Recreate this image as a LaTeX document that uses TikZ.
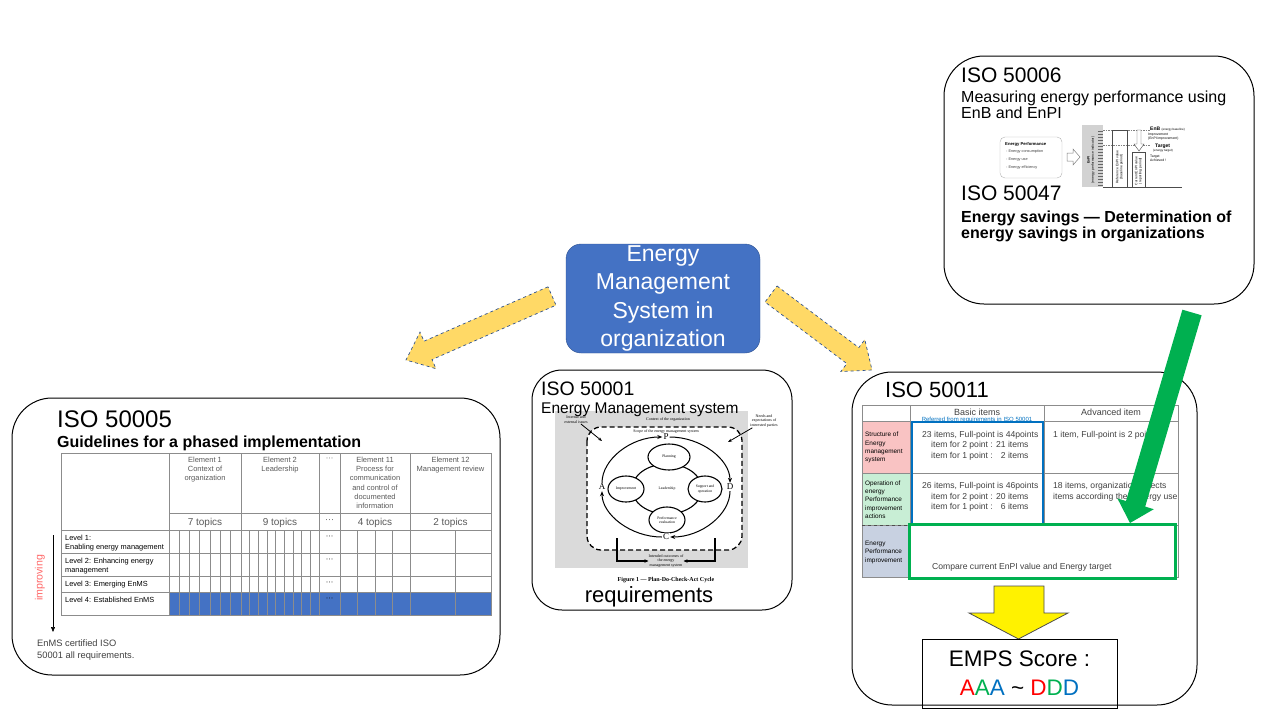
\documentclass[tikz,border=0pt]{standalone}
\usepackage{fontspec}
\setmainfont{Liberation Sans}
\newfontfamily\figfont{Liberation Serif}
\usetikzlibrary{arrows.meta,shapes.geometric}

\definecolor{enmsblue}{HTML}{4472C4}
\definecolor{enmsedge}{HTML}{2F528F}
\definecolor{arrowgold}{HTML}{FFD966}
\definecolor{scoregreen}{HTML}{00B050}
\definecolor{basicblue}{HTML}{0070C0}
\definecolor{rowpink}{HTML}{F9C3C3}
\definecolor{rowgreen}{HTML}{C8EED5}
\definecolor{rowslate}{HTML}{C8D1E1}
\definecolor{cellgray}{HTML}{595959}
\definecolor{celltext}{HTML}{404040}
\definecolor{tabgray}{HTML}{8C8C8C}
\definecolor{figgray}{HTML}{DADADA}

\newcommand{\pxfont}[2]{\fontsize{#1}{#2}\selectfont}

\begin{document}
\begin{tikzpicture}[x=1pt,y=-1pt,
  isobox/.style={draw, line width=1, rounded corners=40},
  lbl/.style={anchor=base west, inner sep=0},
  cbl/.style={anchor=base, inner sep=0},
  tabline/.style={draw=tabgray, line width=0.8},
  goldarrow/.style={fill=arrowgold, draw=enmsedge, dashed, line width=0.7},
  hdr/.style={anchor=north, inner sep=0, align=center, text=cellgray, font=\pxfont{7.5}{9.3}},
  lvl/.style={lbl, font=\pxfont{7.4}{8.5}},
  celltxt/.style={lbl, text=celltext, font=\pxfont{8.6}{10.7}},
  rowhd/.style={anchor=north west, inner sep=0, align=left, font=\pxfont{6.4}{8.3}},
  figtxt/.style={inner sep=0, align=center, font=\figfont\pxfont{4}{4.8}},
  figsans/.style={inner sep=0, align=left, font=\pxfont{3.4}{4.2}},
  ring/.style={draw, ellipse, line width=1.1, inner sep=0, align=center, font=\figfont\pxfont{3.8}{4.5}},
  letter/.style={fill=white, inner sep=1, font=\figfont\pxfont{9}{9}},
  pdcaarc/.style={line width=1, -{Stealth[length=5,width=4]}},
  enms/.style={draw=enmsedge, fill=enmsblue, rounded corners=15, text=white, minimum width=194,
    minimum height=109, inner sep=0, align=center, font=\pxfont{23}{28.5}}
]
\useasboundingbox (0,0) rectangle (1280,720);

% centre and the two yellow arrows
\node[enms] (enms) at (663,298.5) {Energy\\Management\\System in\\organization};
\draw[goldarrow] (548.0,286.8) -- (424.0,341.2) -- (420.0,332.1) -- (406,360) -- (436.0,368.7)
  -- (432.0,359.6) -- (556.0,305.2) -- cycle;
\draw[goldarrow] (777.0,286.0) -- (858.8,347.6) -- (864.8,339.6) -- (872,370) -- (840.8,371.6)
  -- (846.8,363.6) -- (765.0,302.0) -- cycle;

% ISO 50005
\draw[isobox] (12,398) rectangle (500,675);
\node[lbl, font=\pxfont{24}{28}] (t5) at (57,427) {ISO 50005};
\node[lbl, font=\bfseries\pxfont{16}{19}] (g5) at (57,447) {Guidelines for a phased implementation};
\fill[enmsblue] (169,592) rectangle (491,615);
\draw[tabline] (61,453) rectangle (491,615);
\foreach \y in {530,553,576,592} \draw[tabline] (61,\y) -- (491,\y);
\draw[tabline] (169,513) -- (491,513);
\foreach \x in {169,241,319,340,410} \draw[tabline] (\x,453) -- (\x,615);
\foreach \i in {1,...,6} \draw[tabline] ({169+\i*72/7},530) -- ({169+\i*72/7},615);
\foreach \i in {1,...,8} \draw[tabline] ({241+\i*78/9},530) -- ({241+\i*78/9},615);
\foreach \i in {1,2,3} \draw[tabline] ({340+\i*17.5},530) -- ({340+\i*17.5},615);
\draw[tabline] (455,530) -- (455,615);
\node[hdr] (e1) at (205,456.5) {Element 1\\Context of\\organization};
\node[hdr] (e2) at (280,456.5) {Element 2\\Leadership};
\node[inner sep=0, text=cellgray, font=\pxfont{7.5}{9}] (edots) at (329.5,459) {···};
\node[hdr] (e11) at (375,456.5) {Element 11\\Process for\\communication\\and control of\\documented\\information};
\node[hdr] (e12) at (450.5,456.5) {Element 12\\Management review};
\foreach \x/\t [count=\k] in {205/7 topics,280/9 topics,375/4 topics,450.5/2 topics}
  \node[cbl, text=cellgray, font=\pxfont{10}{12}] (tp\k) at (\x,525) {\t};
\node[inner sep=0, text=cellgray, font=\pxfont{9}{9}] (tpdots) at (329.5,521.5) {···};
\foreach \y [count=\k] in {537,560,583,599}
  \node[inner sep=0, font=\pxfont{7.5}{9}] (ld\k) at (329.5,\y) {···};
\node[lvl] (lv1a) at (65,540.5) {Level 1:};
\node[lvl] (lv1b) at (65,549) {Enabling energy management};
\node[lvl] (lv2a) at (65,563) {Level 2: Enhancing energy};
\node[lvl] (lv2b) at (65,572) {management};
\node[lvl] (lv3) at (65,586) {Level 3: Emerging EnMS};
\node[lvl] (lv4) at (65,602) {Level 4: Established EnMS};
\node[rotate=90, inner sep=0, text=red!60, font=\pxfont{10.6}{12}] (impr) at (40,578) {improving};
\coordinate (imptop) at (53,535);
\coordinate (impend) at (53,632);
\draw[line width=0.6, -{Triangle[length=5,width=4]}] (imptop) -- (impend);
\node[lbl, text=celltext, font=\pxfont{9.3}{12}] (cert1) at (37,646) {EnMS certified ISO};
\node[lbl, text=celltext, font=\pxfont{9.3}{12}] (cert2) at (37,658) {50001 all requirements.};

% ISO 50001 with its PDCA figure
\draw[isobox, rounded corners=30] (532,370) rectangle (792,610);
\fill[figgray] (555,411) rectangle (748,568);
\draw[dash pattern=on 5pt off 3pt, line width=1.3, fill=white, rounded corners=14] (587,427) rectangle (742,550);
\node[figtxt] (ctx) at (668,420) {Context of the organization};
\node[figtxt] (intiss) at (576,420) {Internal and\\external issues};
\node[figtxt] (needs) at (764,421) {Needs and\\expectations of\\interested parties};
\node[figtxt] (scope) at (666,431.5) {Scope of the energy management system};
\coordinate (intin) at (602,441);
\coordinate (needin) at (728,442);
\draw[line width=0.8, -{Stealth[length=4,width=3]}] (intiss) -- (intin);
\draw[line width=0.8, -{Stealth[length=4,width=3]}] (needs) -- (needin);
\node[ring, minimum width=70, minimum height=50] (lead) at (667,489) {Leadership};
\node[ring, fill=white, minimum width=42, minimum height=26] (plan) at (669,457) {Planning};
\node[ring, fill=white, minimum width=34, minimum height=26] (supp) at (705,489) {Support and\\operation};
\node[ring, fill=white, minimum width=36, minimum height=26] (perf) at (667,520) {Performance\\evaluation};
\node[ring, fill=white, minimum width=36, minimum height=26] (imp) at (626,489) {Improvement};
\node[letter] (P) at (666,437) {P};
\node[letter] (D) at (730,487) {D};
\node[letter] (C) at (666,537) {C};
\node[letter] (A) at (602,487) {A};
\draw[pdcaarc] (A) .. controls (602,459.4) and (630.7,437) .. (P);
\draw[pdcaarc] (P) .. controls (701.3,437) and (730,459.4) .. (D);
\draw[pdcaarc] (D) .. controls (730,514.6) and (701.3,537) .. (C);
\draw[pdcaarc] (C) .. controls (630.7,537) and (602,514.6) .. (A);
\node[figtxt] (outc) at (666,561) {Intended outcomes of\\the energy\\management system};
\coordinate (outl) at (617,538);
\coordinate (outr) at (715,538);
\draw[line width=1.4, -{Stealth[length=4,width=3.5]}] (outl) |- (outc.west);
\draw[line width=1.4, -{Stealth[length=4,width=3.5]}] (outr) |- (outc.east);
\node[figtxt, font=\figfont\bfseries\pxfont{6}{7}] (figcap) at (666,580) {Figure 1 — Plan-Do-Check-Act Cycle};
\node[lbl, font=\pxfont{19.5}{23}] (t1) at (541,395) {ISO 50001};
\node[lbl, font=\pxfont{15.5}{18}] (s1) at (541,413) {Energy Management system};
\node[cbl, font=\pxfont{22}{26}] (req) at (649,602) {requirements};

% ISO 50006 / ISO 50047
\draw[isobox] (944,56) rectangle (1254,304);
\node[lbl, font=\pxfont{21}{25}] (t6) at (961,82) {ISO 50006};
\node[lbl, font=\pxfont{16}{19}] (s6a) at (961,102) {Measuring energy performance using};
\node[lbl, font=\pxfont{16}{19}] (s6b) at (961,118) {EnB and EnPI};
\node[draw=gray!60, rounded corners=5, minimum width=62, minimum height=41] (perfbox) at (1031,157.5) {};
\node[lbl, font=\bfseries\pxfont{4.2}{5}] (pb0) at (1005,145) {Energy Performance};
\node[lbl, text=celltext, font=\pxfont{3.8}{5}] (pb1) at (1006,152.5) {- Energy consumption};
\node[lbl, text=celltext, font=\pxfont{3.8}{5}] (pb2) at (1006,160.5) {- Energy use};
\node[lbl, text=celltext, font=\pxfont{3.8}{5}] (pb3) at (1006,168.5) {- Energy efficiency};
\draw[gray, line width=0.5] (1067,153) -- (1073,153) -- (1073,149) -- (1080,157) -- (1073,165) -- (1073,161) -- (1067,161) -- cycle;
\fill[gray!35] (1082,125) rectangle (1103,187);
\foreach \y in {131,134,...,185} \draw[gray!80!black, line width=0.4] (1098,\y) -- (1103,\y);
\node[figsans, rotate=90, align=center] (enpiax) at (1091,160) {\textbf{EnPI}\\(energy performance indicator)};
\draw[dash pattern=on 1.5pt off 1pt, gray, line width=0.4] (1103,130) -- (1150,130);
\draw[dash pattern=on 1.5pt off 1pt, gray, line width=0.4] (1103,145) -- (1150,145);
\draw[gray!60!black, line width=0.5] (1112,130) rectangle (1127,187);
\draw[gray!60!black, line width=0.5] (1132,152) rectangle (1145,187);
\draw[gray!60!black, line width=0.5] (1103,187) -- (1182,187);
\node[figsans, rotate=90, align=center] (refv) at (1119.5,167) {Reference EnPI value\\(baseline period)};
\node[figsans, rotate=90, align=center] (curv) at (1138.5,171) {Current EnPI value\\(reporting period)};
\draw[gray!60!black, fill=white, line width=0.4] (1137,130) -- (1141,130) -- (1141,144) -- (1144,144) -- (1139,151)
  -- (1134,144) -- (1137,144) -- cycle;
\node[lbl, font=\pxfont{5}{6}] (enb) at (1150,130.5) {\textbf{EnB} {\pxfont{3}{4}(energy baseline)}};
\node[figsans, anchor=north west] (imv) at (1148,133) {Improvement\\(EnPI improvement)};
\node[lbl, font=\pxfont{5}{6}] (tgt) at (1155,147) {\textbf{Target}};
\node[lbl, font=\pxfont{3}{4}] (tgtb) at (1153,151.5) {(energy target)};
\node[figsans, anchor=north west] (ach) at (1150,155) {Target\\Achieved !};
\node[lbl, font=\pxfont{21}{25}] (t47) at (961,200) {ISO 50047};
\node[lbl, font=\bfseries\pxfont{16}{19}] (s47a) at (961,222) {Energy savings — Determination of};
\node[lbl, font=\bfseries\pxfont{16}{19}] (s47b) at (961,238) {energy savings in organizations};

% ISO 50011
\draw[isobox] (852,372) rectangle (1197,705);
\node[lbl, font=\pxfont{22}{26}] (t11) at (885,397.5) {ISO 50011};
\fill[rowpink] (862,421) rectangle (910,473);
\fill[rowgreen] (862,473) rectangle (910,525);
\fill[rowslate] (862,525) rectangle (910,577);
\draw[tabline] (862,405) rectangle (1178,577);
\foreach \y in {421,473,525} \draw[tabline] (862,\y) -- (1178,\y);
\draw[tabline] (910,405) -- (910,577);
\draw[tabline] (1044,405) -- (1044,525);
\draw[dashed, black!70, line width=0.6] (862,525) -- (910,525);
\node[cbl, text=celltext, font=\pxfont{9}{11}] (basic) at (977,415) {Basic items};
\node[cbl, text=celltext, font=\pxfont{9}{11}] (adv) at (1111,415) {Advanced item};
\node[cbl, text=basicblue, font=\pxfont{6}{7}] (refd) at (977,421.5) {Referred from requirements in ISO 50001};
\node[rowhd] (rh1) at (865,432) {Structure of\\Energy\\management\\system};
\node[rowhd] (rh2) at (865,480.5) {Operation of\\energy\\Performance\\improvement\\actions};
\node[rowhd] (rh3) at (865,541) {Energy\\Performance\\improvement};
\node[celltxt] (b1a) at (922,437) {23 items, Full-point is 44points};
\node[celltxt] (b1b) at (931,447.5) {item for 2 point : 21 items};
\node[celltxt] (b1c) at (931,458) {item for 1 point : \phantom{2}2 items};
\node[celltxt] (a1) at (1053,437) {1 item, Full-point is 2 points};
\node[celltxt] (b2a) at (922,488.5) {26 items, Full-point is 46points};
\node[celltxt] (b2b) at (931,499) {item for 2 point : 20 items};
\node[celltxt] (b2c) at (931,509.5) {item for 1 point : \phantom{2}6 items};
\node[celltxt] (a2a) at (1053,488.5) {18 items, organization selects};
\node[celltxt] (a2b) at (1053,499) {items according their energy use};
\node[celltxt] (cmp) at (932,569) {Compare current EnPI value and Energy target};
\draw[basicblue, line width=2] (911.5,422) rectangle (1042.5,524);
\draw[scoregreen, line width=3] (909,524) rectangle (1175,578);

% EMPS score
\draw[fill=yellow, draw=black!70, line width=0.8] (994,586) -- (1044,586) -- (1044,613) -- (1068,613)
  -- (1018.5,639) -- (969,613) -- (994,613) -- cycle;
\node[draw, line width=0.8, minimum width=195, minimum height=69, inner sep=0, align=center,
  font=\pxfont{22.5}{29}] (emps) at (1019.5,673.5)
  {EMPS Score :\\{\color{red}A}{\color{scoregreen}A}{\color{basicblue}A} \textasciitilde{} {\color{red}D}{\color{scoregreen}D}{\color{basicblue}D}};

% green arrow from ISO 50006 into the score row
\fill[scoregreen] (1182.4,309.7) -- (1126.0,501.0) -- (1117.4,498.4) -- (1130,523) -- (1153.8,509.2)
  -- (1145.2,506.6) -- (1201.6,315.3) -- cycle;
\end{tikzpicture}
\end{document}
